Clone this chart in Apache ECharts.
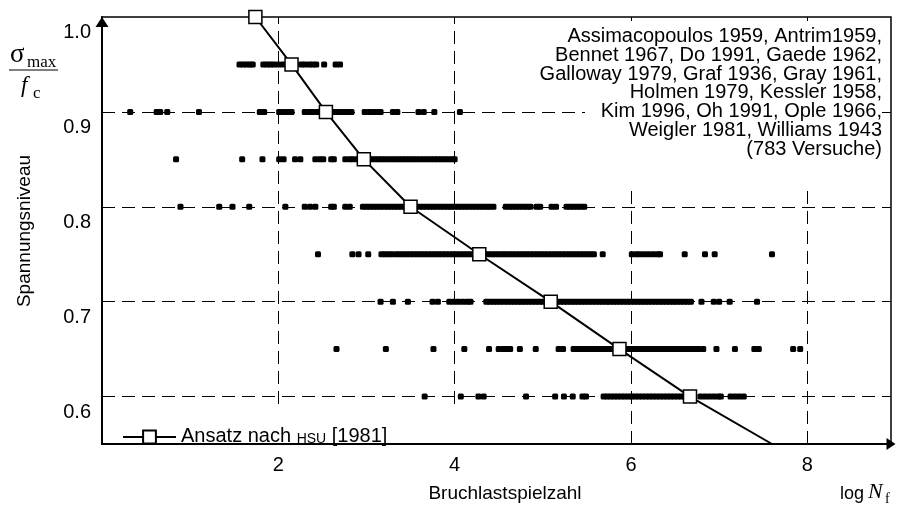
<!DOCTYPE html>
<html><head><meta charset="utf-8">
<script src="https://cdn.jsdelivr.net/npm/echarts@6/dist/echarts.min.js"></script>
<style>html,body{margin:0;padding:0;background:#fff}#c{width:898px;height:507px}</style>
</head><body><div id="c"></div>
<script>
// ---- data (log Nf values, per stress level) ----
const stressLevels = [0.95, 0.9, 0.85, 0.8, 0.75, 0.7, 0.65, 0.6];
const row095 = [1.56, 1.60, 1.64, 1.68, 1.71, 1.83, 1.87, 1.91, 1.95, 2.00, 2.05, 2.10, 2.15, 2.19, 2.26, 2.30, 2.35, 2.39, 2.43, 2.52, 2.65, 2.70];
const row090 = [0.32, 0.62, 0.66, 0.74, 1.10, 1.79, 1.84, 2.01, 2.06, 2.11, 2.15, 2.30, 2.35, 2.39, 2.44, 2.50, 2.56, 2.62, 2.66, 2.71, 2.75, 2.80, 2.83, 2.98, 3.03, 3.08, 3.12, 3.16, 3.30, 3.35, 3.59, 3.65, 3.77, 4.06];
const row085 = [0.84, 1.59, 1.82, 2.01, 2.06, 2.19, 2.25, 2.42, 2.47, 2.51, 2.60, 2.63, 2.76, 2.81, 2.85, 2.90, 2.95, 3.00, 3.05, 3.09, 3.13, 3.17, 3.21, 3.25, 3.29, 3.33, 3.37, 3.41, 3.45, 3.49, 3.53, 3.57, 3.61, 3.65, 3.69, 3.73, 3.77, 3.81, 3.85, 3.89, 3.93, 3.97, 4.00];
const row080 = [0.89, 1.33, 1.48, 1.67, 2.08, 2.30, 2.36, 2.42, 2.60, 2.63, 2.76, 2.81, 2.96, 3.00, 3.04, 3.08, 3.12, 3.16, 3.20, 3.24, 3.28, 3.32, 3.36, 3.40, 3.44, 3.48, 3.52, 3.56, 3.60, 3.64, 3.68, 3.72, 3.76, 3.80, 3.84, 3.88, 3.92, 3.96, 4.00, 4.04, 4.08, 4.12, 4.16, 4.20, 4.24, 4.28, 4.32, 4.36, 4.40, 4.44, 4.58, 4.62, 4.66, 4.70, 4.74, 4.78, 4.82, 4.86, 4.93, 4.97, 5.10, 5.15, 5.27, 5.31, 5.35, 5.39, 5.43, 5.47];
const row075 = [2.45, 2.84, 2.91, 3.02, 3.17, 3.21, 3.25, 3.29, 3.34, 3.38, 3.42, 3.46, 3.50, 3.54, 3.58, 3.62, 3.66, 3.70, 3.74, 3.78, 3.82, 3.86, 3.90, 3.94, 3.98, 4.02, 4.06, 4.10, 4.14, 4.18, 4.22, 4.26, 4.30, 4.34, 4.38, 4.42, 4.46, 4.50, 4.54, 4.58, 4.62, 4.66, 4.70, 4.74, 4.78, 4.82, 4.86, 4.90, 4.94, 4.98, 5.02, 5.06, 5.10, 5.14, 5.18, 5.22, 5.26, 5.30, 5.34, 5.38, 5.42, 5.46, 5.50, 5.54, 5.58, 5.68, 6.01, 6.06, 6.10, 6.15, 6.20, 6.25, 6.30, 6.33, 6.61, 6.84, 6.95, 7.60];
const row070 = [3.16, 3.30, 3.47, 3.75, 3.81, 3.94, 3.99, 4.04, 4.09, 4.14, 4.18, 4.36, 4.40, 4.44, 4.48, 4.52, 4.56, 4.60, 4.64, 4.68, 4.72, 4.76, 4.80, 4.84, 4.88, 4.92, 4.96, 5.00, 5.04, 5.08, 5.12, 5.16, 5.20, 5.24, 5.28, 5.32, 5.36, 5.40, 5.44, 5.48, 5.52, 5.56, 5.60, 5.64, 5.68, 5.72, 5.76, 5.80, 5.84, 5.88, 5.92, 5.96, 6.00, 6.04, 6.08, 6.12, 6.16, 6.20, 6.24, 6.28, 6.32, 6.36, 6.40, 6.44, 6.48, 6.52, 6.56, 6.60, 6.64, 6.68, 6.80, 6.94, 7.00, 7.12, 7.43];
const row065 = [2.66, 3.22, 3.76, 4.11, 4.39, 4.50, 4.55, 4.59, 4.63, 4.74, 4.92, 5.18, 5.23, 5.35, 5.39, 5.43, 5.47, 5.51, 5.55, 5.59, 5.63, 5.67, 5.71, 5.75, 5.79, 5.83, 5.87, 5.91, 5.97, 6.01, 6.05, 6.09, 6.13, 6.17, 6.21, 6.25, 6.29, 6.33, 6.37, 6.41, 6.45, 6.49, 6.53, 6.57, 6.61, 6.65, 6.69, 6.73, 6.77, 6.82, 6.97, 7.18, 7.40, 7.45, 7.84, 7.92];
const row060 = [3.66, 4.07, 4.27, 4.33, 4.81, 5.14, 5.24, 5.34, 5.45, 5.49, 5.69, 5.73, 5.77, 5.81, 5.85, 5.89, 5.93, 5.97, 6.01, 6.05, 6.09, 6.13, 6.17, 6.21, 6.25, 6.29, 6.33, 6.37, 6.41, 6.45, 6.49, 6.53, 6.57, 6.61, 6.66, 6.72, 6.79, 6.84, 6.89, 6.94, 6.99, 7.02, 7.13, 7.18, 7.23, 7.28];

// Hsu [1981] curve
const hsuLogN   = [1.74, 2.15, 2.54, 2.97, 3.50, 4.28, 5.09, 5.87, 6.67, 7.60];
const hsuStress = [1.0, 0.95, 0.9, 0.85, 0.8, 0.75, 0.7, 0.65, 0.6, 0.55];
const hsuName = 'Ansatz nach HSU [1981]';

// ticks / grid lines
const xTickLabels = ['2', '4', '6', '8'];
const yTickLabels = ['0.6', '0.7', '0.8', '0.9', '1.0'];
const gridX = [2, 4, 6, 8];
const gridY = [0.9, 0.8, 0.7, 0.6];

const sourceLines = [
  'Assimacopoulos 1959, Antrim1959,',
  'Bennet 1967, Do 1991, Gaede 1962,',
  'Galloway 1979, Graf 1936, Gray 1961,',
  'Holmen 1979, Kessler 1958,',
  'Kim 1996, Oh 1991, Ople 1966,',
  'Weigler 1981, Williams 1943',
  '(783 Versuche)'
];

// ---- build ----
const ff = '"Liberation Sans", Arial, sans-serif';
const sf = '"Liberation Serif", "Times New Roman", serif';
const rows = [row095, row090, row085, row080, row075, row070, row065, row060];
const dotData = [];
rows.forEach((r, i) => r.forEach(x => dotData.push([x, stressLevels[i]])));
const hsuData = hsuLogN.map((x, i) => i === hsuLogN.length - 1
  ? { value: [x, hsuStress[i]], symbol: 'none' }
  : [x, hsuStress[i]]);

function txt(x, y, text, font, align, vAlign, extra) {
  return Object.assign({
    type: 'text', x: x, y: y, z: 6,
    style: { text: text, font: font, fill: '#000',
      align: align, textAlign: align, verticalAlign: vAlign, textVerticalAlign: vAlign }
  }, extra || {});
}

const chart = echarts.init(document.getElementById('c'), null, { renderer: 'canvas' });
const option = {
  animation: false,
  backgroundColor: '#fff',
  grid: { left: 102, top: 17, width: 789, height: 427, show: true, containLabel: false,
    outerBoundsMode: 'none',
    borderColor: '#000', borderWidth: 1.5, backgroundColor: 'transparent' },
  xAxis: {
    type: 'value', min: 0, max: 8.95, interval: 2, z: 5,
    axisLine: { show: true, onZero: false, lineStyle: { color: '#000', width: 2 },
      symbol: ['none', 'triangle'], symbolSize: [12, 9], symbolOffset: [0, 0] },
    axisTick: { show: false }, splitLine: { show: false },
    axisLabel: { color: '#000', fontSize: 20, fontFamily: ff, margin: 11,
      formatter: v => xTickLabels.includes(String(v)) ? String(v) : '' }
  },
  yAxis: {
    type: 'value', min: 0.55, max: 1.0, interval: 0.05, z: 5,
    axisLine: { show: true, onZero: false, lineStyle: { color: '#000', width: 2 },
      symbol: ['none', 'triangle'], symbolSize: [13, 10], symbolOffset: [0, -5] },
    axisTick: { show: false }, splitLine: { show: false },
    axisLabel: { color: '#000', fontSize: 20, fontFamily: ff, margin: 11, lineHeight: 31,
      formatter: v => { const s = v.toFixed(1); return (Math.abs(v - parseFloat(s)) < 1e-6 && yTickLabels.includes(s)) ? '\n' + s : ''; } }
  },
  legend: {
    data: [hsuName], left: 103, top: 406, padding: [20, 100, 1, 19],
    backgroundColor: '#fff', z: 3, itemWidth: 53, itemHeight: 16, selectedMode: false,
    formatter: () => '{m|Ansatz nach }{sc|HSU}{m| [1981]}',
    textStyle: { fontSize: 20, fontFamily: ff, color: '#000', lineHeight: 18,
      rich: {
        m: { fontSize: 20, fontFamily: ff, color: '#000', lineHeight: 18, verticalAlign: 'bottom' },
        sc: { fontSize: 14, fontFamily: ff, color: '#000', lineHeight: 14, verticalAlign: 'bottom' } } }
  },
  series: [
    { name: 'Versuche', type: 'scatter', data: dotData, symbol: 'roundRect', symbolSize: [6, 6],
      itemStyle: { color: '#000', opacity: 1 }, silent: true, z: 2,
      markLine: { silent: true, z: 1, symbol: ['none', 'none'], label: { show: false }, animation: false,
        lineStyle: { color: '#000', width: 1, type: [13, 7] },
        emphasis: { disabled: true },
        data: gridX.map(v => ({ xAxis: v })).concat(gridY.map(v => ({ yAxis: v }))) } },
    { name: hsuName, type: 'line', data: hsuData, symbol: 'rect', symbolSize: 13, silent: true, z: 3,
      lineStyle: { color: '#000', width: 2 },
      itemStyle: { color: '#fff', borderColor: '#000', borderWidth: 1.5 } }
  ],
  graphic: [
    { type: 'rect', z: 4, shape: { x: 585, y: 21, width: 294, height: 164 }, style: { fill: '#fff' } },
    txt(882, 27.5, sourceLines.join('\n'), '20px ' + ff, 'right', 'top',
      { style: { text: sourceLines.join('\n'), font: '20px ' + ff, fill: '#000', align: 'right', textAlign: 'right',
        verticalAlign: 'top', textVerticalAlign: 'top', lineHeight: 18.7 } }),
    txt(25, 231, 'Spannungsniveau', '19px ' + ff, 'center', 'middle', { rotation: Math.PI / 2 }),
    txt(505, 494, 'Bruchlastspielzahl', '19px ' + ff, 'center', 'middle'),
    txt(840, 494, 'log', '18px ' + ff, 'left', 'middle'),
    txt(868, 492, 'N', 'italic 22px ' + sf, 'left', 'middle'),
    txt(885, 499, 'f', '14px ' + sf, 'left', 'middle'),
    txt(10, 55, 'σ', '27px ' + sf, 'left', 'middle'),
    txt(27, 63, 'max', '17px ' + sf, 'left', 'middle'),
    { type: 'line', z: 6, shape: { x1: 9, y1: 70, x2: 58, y2: 70 }, style: { stroke: '#000', lineWidth: 1.2 } },
    txt(21, 86, 'f', 'italic 23px ' + sf, 'left', 'middle'),
    txt(33, 94, 'c', '17px ' + sf, 'left', 'middle')
  ]
};
chart.setOption(option);
</script>
</body></html>
